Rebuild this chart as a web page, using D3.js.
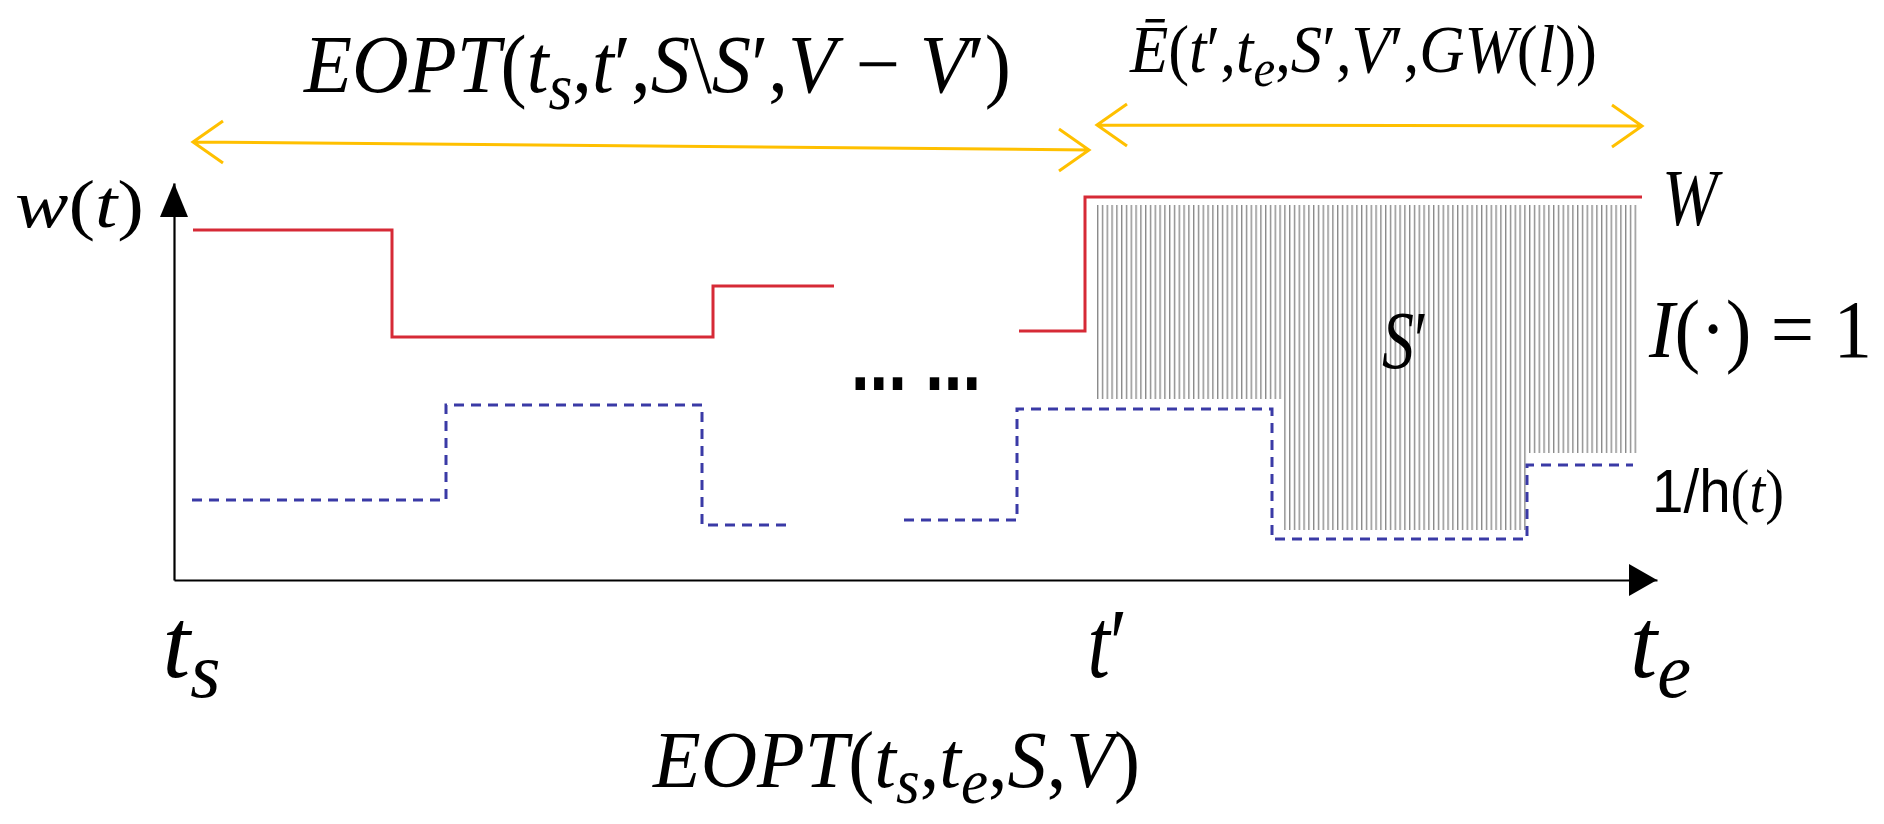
<!DOCTYPE html>
<html>
<head>
<meta charset="utf-8">
<script src="https://cdn.jsdelivr.net/npm/d3@7"></script>
<style>
body { margin: 0; background: #fff; }
svg { display: block; }
</style>
</head>
<body>
<svg id="chart" width="1884" height="824"></svg>
<script>
// tick labels on the time axis (placed at their centres)
var tickValues = [1.7, 93.3, 148.6];
var tickNames = ["t_s", "t′", "t_e"];

// w(t): red step line, two pieces  [t, w]
var wPart1 = [[1.9, 35.0], [21.8, 24.3], [53.9, 29.4], [66.0, 29.4]];
var wPart2 = [[84.5, 24.9], [91.1, 38.3], [146.8, 38.3]];

// 1/h(t): blue dashed step line, two pieces  [t, value]
var hPart1 = [[1.8, 8.0], [27.2, 17.5], [52.8, 5.5], [61.6, 5.5]];
var hPart2 = [[73.0, 6.0], [84.3, 17.1], [109.8, 4.1], [135.3, 11.5], [145.9, 11.5]];

// S' region: [t0, t1, bottom], top is W
var sTop = 37.5;
var sBlocks = [[92.3, 110.9, 18.1], [110.9, 135.3, 5.0], [135.3, 146.3, 12.7]];

// interval arrows [t0, t1, level at t0, level at t1]
var spans = [[1.9, 91.5, 43.8, 43.0], [92.3, 146.8, 45.5, 45.4]];

var svg = d3.select("#chart");
var x = d3.scaleLinear().domain([0, 148.3]).range([174, 1657]);
var y = d3.scaleLinear().domain([0, 39.7]).range([580, 183]);

var serif = "'Liberation Serif', 'DejaVu Serif', serif";
var sans = "'Liberation Sans', Arial, sans-serif";

// builds a text from a small math string: letters italic, "_c" = subscript c
function mathText(parent, str, size, sansPrefix) {
	var t = parent.append("text")
		.attr("font-family", serif)
		.attr("font-size", size)
		.attr("fill", "#000");
	var runs = [];
	var chars = Array.from(str);
	for (var i = 0; i < chars.length; i++) {
		var c = chars[i], kind;
		if (c === "_") { i++; c = chars[i]; kind = "s"; }
		else if (/[A-Za-zĒ]/.test(c)) kind = "i";
		else kind = "r";
		var last = runs[runs.length - 1];
		if (last && last.kind === kind) last.s += c;
		else runs.push({ s: c, kind: kind });
	}
	if (sansPrefix) runs.unshift({ s: sansPrefix, kind: "a" });
	var shift = 0;
	runs.forEach(function(r) {
		var want = r.kind === "s" ? size * 0.2 : 0;
		var ts = t.append("tspan").text(r.s).attr("dy", want - shift);
		shift = want;
		if (r.kind === "s") ts.attr("font-size", size * 0.78).attr("font-style", "italic");
		else if (r.kind === "i") ts.attr("font-style", "italic");
		else if (r.kind === "a") ts.attr("font-family", sans);
	});
	return t;
}

// squeeze a text horizontally into [x0, x0 + w] with baseline at yb
function fit(t, x0, w, yb) {
	var bb = t.node().getBBox();
	var k = w / bb.width;
	t.attr("transform", "translate(" + (x0 - bb.x * k) + "," + yb + ") scale(" + k + ",1)");
}

// hatch pattern for S'
var defs = svg.append("defs");
var pat = defs.append("pattern")
	.attr("id", "hatch")
	.attr("patternUnits", "userSpaceOnUse")
	.attr("width", 4.8)
	.attr("height", 20)
	.attr("patternTransform", "translate(" + x(sBlocks[0][0]) + ",0)");
pat.append("rect")
	.attr("x", 0).attr("y", 0)
	.attr("width", 1.4).attr("height", 20)
	.attr("fill", "#8a8a8a");

svg.append("g").selectAll("rect")
	.data(sBlocks)
	.join("rect")
	.attr("x", function(d) { return x(d[0]); })
	.attr("width", function(d) { return x(d[1]) - x(d[0]); })
	.attr("y", y(sTop))
	.attr("height", function(d) { return y(d[2]) - y(sTop); })
	.attr("fill", "url(#hatch)");

var step = d3.line()
	.x(function(d) { return x(d[0]); })
	.y(function(d) { return y(d[1]); })
	.curve(d3.curveStepAfter);

svg.append("g").selectAll("path")
	.data([hPart1, hPart2])
	.join("path")
	.attr("d", step)
	.attr("fill", "none")
	.attr("stroke", "#3a3aa6")
	.attr("stroke-width", 3)
	.attr("stroke-dasharray", "10,7");

svg.append("g").selectAll("path")
	.data([wPart1, wPart2])
	.join("path")
	.attr("d", step)
	.attr("fill", "none")
	.attr("stroke", "#d62a36")
	.attr("stroke-width", 3);

// axes
var xAxis = d3.axisBottom(x).tickValues(tickValues).tickSize(0).tickSizeOuter(0).tickFormat("");
var gx = svg.append("g").attr("transform", "translate(0," + y(0) + ")").call(xAxis);
gx.select(".domain").attr("stroke", "#000").attr("stroke-width", 2.2);
gx.selectAll(".tick text").remove();
var tickWidths = [58, 40, 61];
gx.selectAll(".tick").each(function(d, i) {
	var t = mathText(d3.select(this), tickNames[i], 100);
	fit(t, -tickWidths[i] / 2, tickWidths[i], 97);
});

var yAxis = d3.axisLeft(y).tickValues([]).tickSizeOuter(0);
var gy = svg.append("g").attr("transform", "translate(" + x(0) + ",0)").call(yAxis);
gy.select(".domain").attr("stroke", "#000").attr("stroke-width", 2.2);

// arrow heads on the axes
var xEnd = x.range()[1], yEnd = y.range()[1];
svg.append("path")
	.attr("d", "M" + xEnd + "," + y(0) + "L" + (xEnd - 28) + "," + (y(0) - 16) + "L" + (xEnd - 28) + "," + (y(0) + 16) + "Z")
	.attr("fill", "#000");
svg.append("path")
	.attr("d", "M" + x(0) + "," + yEnd + "L" + (x(0) - 14) + "," + (yEnd + 34) + "L" + (x(0) + 14) + "," + (yEnd + 34) + "Z")
	.attr("fill", "#000");

// yellow interval arrows
svg.append("g").selectAll("path")
	.data(spans)
	.join("path")
	.attr("d", function(d) {
		var x0 = x(d[0]), x1 = x(d[1]), y0 = y(d[2]), y1 = y(d[3]);
		return "M" + x0 + "," + y0 + "L" + x1 + "," + y1 +
			"M" + (x0 + 30) + "," + (y0 - 21) + "L" + x0 + "," + y0 + "L" + (x0 + 30) + "," + (y0 + 21) +
			"M" + (x1 - 30) + "," + (y1 - 21) + "L" + x1 + "," + y1 + "L" + (x1 - 30) + "," + (y1 + 21);
	})
	.attr("fill", "none")
	.attr("stroke", "#ffc000")
	.attr("stroke-width", 3);

// labels
fit(mathText(svg, "EOPT(t_s,t′,S\\S′,V − V′)", 83), 303, 708, 92);
fit(mathText(svg, "Ē(t′,t_e,S′,V′,GW(l))", 68), 1129, 468, 72);
fit(mathText(svg, "w(t)", 67), 15, 129, 227);
fit(mathText(svg, "W", 80), 1662, 61, 225);
fit(mathText(svg, "S′", 83), 1382, 46, 368);
fit(mathText(svg, "I(·) = 1", 83), 1648, 224, 357);
fit(mathText(svg, "(t)", 61, "1/h"), 1652, 132, 512);
fit(mathText(svg, "EOPT(t_s,t_e,S,V)", 80), 652, 488, 787);

var dots = svg.append("text")
	.attr("font-family", sans)
	.attr("font-weight", "bold")
	.attr("font-size", 85)
	.attr("fill", "#000")
	.text("... ...");
fit(dots, 851, 130, 390);
</script>
</body>
</html>
